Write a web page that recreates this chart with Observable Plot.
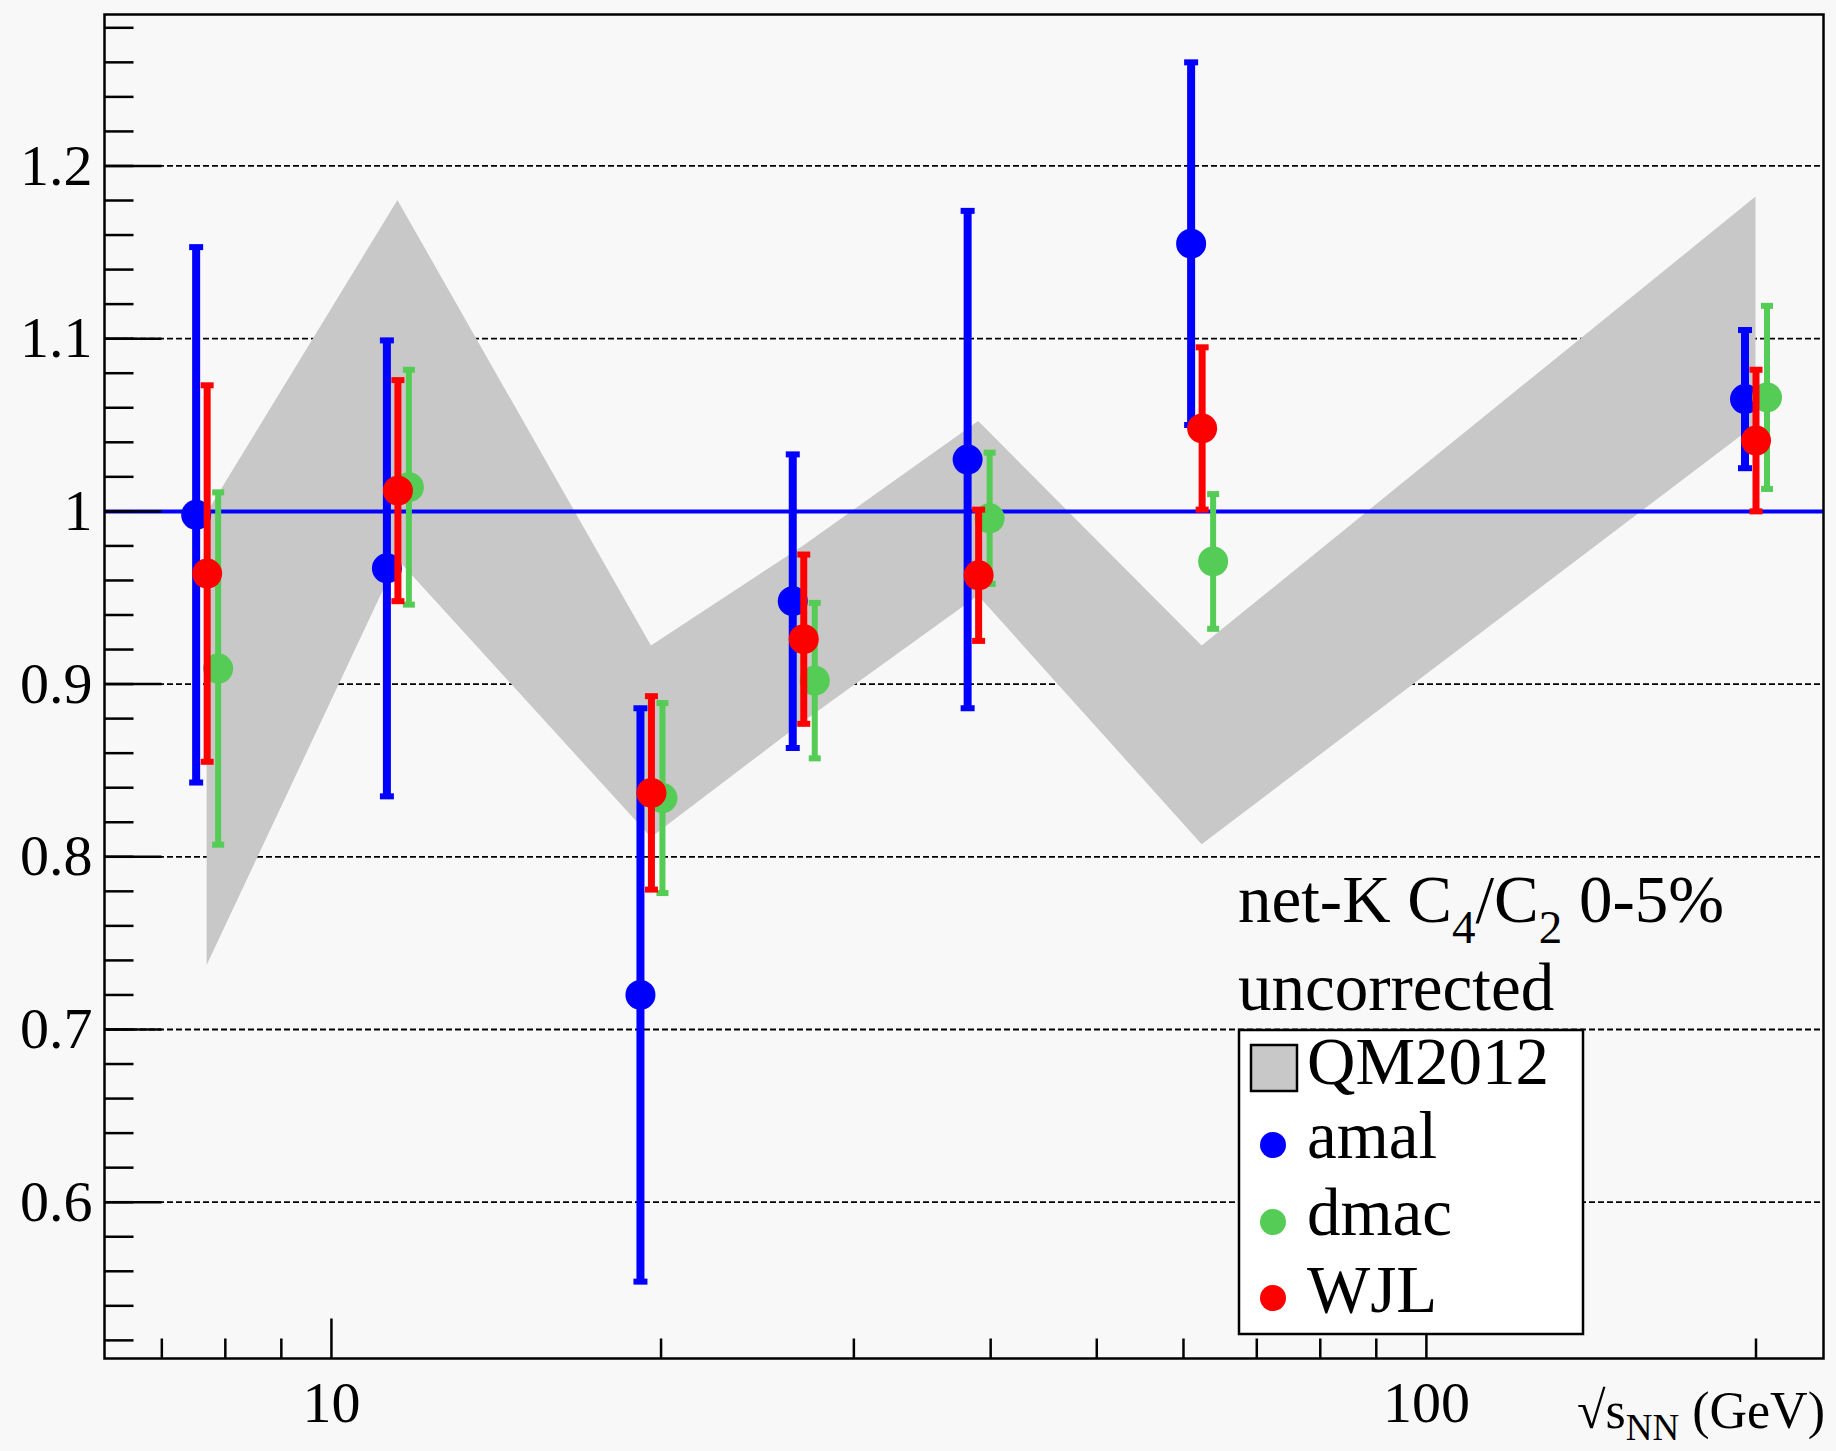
<!DOCTYPE html>
<html><head><meta charset="utf-8">
<script src="https://cdn.jsdelivr.net/npm/d3@7"></script>
<script src="https://cdn.jsdelivr.net/npm/@observablehq/plot@0.6"></script>
<style>
html,body{margin:0;padding:0;background:#f8f8f8;}
#chart{position:relative;width:1836px;height:1451px;}
text{white-space:pre;}
</style></head><body><div id="chart"></div>
<script>
// ---- data ----
const energies = [7.7, 11.5, 19.6, 27, 39, 62.4, 200];
const amalVal = [0.998, 0.967, 0.720, 0.948, 1.030, 1.155, 1.065];
const amalErr = [0.155, 0.132, 0.166, 0.085, 0.144, 0.105, 0.040];
const dmacVal = [0.909, 1.014, 0.834, 0.902, 0.996, 0.971, 1.066];
const dmacErr = [0.102, 0.068, 0.055, 0.045, 0.038, 0.039, 0.053];
const wjlVal  = [0.964, 1.012, 0.837, 0.926, 0.963, 1.048, 1.041];
const wjlErr  = [0.109, 0.064, 0.056, 0.049, 0.038, 0.047, 0.041];
const qmLow   = [0.737, 0.972, 0.811, 0.878, 0.951, 0.807, 1.050];
const qmHigh  = [0.999, 1.180, 0.922, 0.980, 1.052, 0.922, 1.182];
const yMajor = [0.6, 0.7, 0.8, 0.9, 1.0, 1.1, 1.2];
const yLabels = ["0.6", "0.7", "0.8", "0.9", "1", "1.1", "1.2"];
const yMinor = d3.range(26, 65).map(i => +(i * 0.02).toFixed(2));
const xMajor = [10, 100];
const xLabels = ["10", "100"];
const xMinor = [7, 8, 9, 20, 30, 40, 50, 60, 70, 80, 90, 200];
const seriesNames = ["amal", "dmac", "WJL"];
const seriesColors = ["#0000ff", "#55cc55", "#ff0000"];

// ---- tables ----
const band = energies.map((E, i) => ({E, lo: qmLow[i], hi: qmHigh[i]}));
const mk = (vals, errs) => energies.map((E, i) => ({E, v: vals[i], lo: vals[i] - errs[i], hi: vals[i] + errs[i]}));
const series = [
  {name: seriesNames[0], data: mk(amalVal, amalErr), color: seriesColors[0], dx: -11, sw: 8},
  {name: seriesNames[1], data: mk(dmacVal, dmacErr), color: seriesColors[1], dx: 11, sw: 6},
  {name: seriesNames[2], data: mk(wjlVal, wjlErr), color: seriesColors[2], dx: 0, sw: 7}
];

// ---- custom glyphs ----
const capSymbol = (w, h) => ({draw(ctx) { ctx.rect(-w / 2, -h / 2, w, h); }});
const tickRight = L => ({draw(ctx) { ctx.moveTo(0, 0); ctx.lineTo(L, 0); }});
const tickUp = L => ({draw(ctx) { ctx.moveTo(0, 0); ctx.lineTo(0, -L); }});

const seriesMarks = series.flatMap(s => [
  Plot.ruleX(s.data, {x: "E", y1: "lo", y2: "hi", stroke: s.color, strokeWidth: s.sw, dx: s.dx}),
  Plot.dot(s.data, {x: "E", y: "lo", symbol: capSymbol(s.sw + 6, 6), fill: s.color, stroke: "none", dx: s.dx}),
  Plot.dot(s.data, {x: "E", y: "hi", symbol: capSymbol(s.sw + 6, 6), fill: s.color, stroke: "none", dx: s.dx}),
  Plot.dot(s.data, {x: "E", y: "v", r: 15, fill: s.color, stroke: "none", dx: s.dx})
]);

const FONT = "Liberation Serif, Times New Roman, serif";

const chart = Plot.plot({
  width: 1836, height: 1451,
  marginLeft: 104, marginRight: 13, marginTop: 14, marginBottom: 93,
  style: {background: "#f8f8f8", fontFamily: FONT, color: "black"},
  x: {type: "log", domain: [6.205, 230.5]},
  y: {domain: [0.5095, 1.2877]},
  marks: [
    Plot.ruleY(yMajor, {stroke: "black", strokeWidth: 1.8, strokeDasharray: "6,3"}),
    Plot.areaY(band, {x: "E", y1: "lo", y2: "hi", fill: "#c8c8c8"}),
    Plot.ruleY([1], {stroke: "#0000ff", strokeWidth: 4}),
    ...seriesMarks,
    Plot.frame({stroke: "black", strokeWidth: 2.5}),
    Plot.dot(yMinor, {y: d => d, frameAnchor: "left", symbol: tickRight(29), stroke: "black", strokeWidth: 2.5, fill: "none"}),
    Plot.dot(yMajor, {y: d => d, frameAnchor: "left", symbol: tickRight(57), stroke: "black", strokeWidth: 2.5, fill: "none"}),
    Plot.dot(xMinor, {x: d => d, frameAnchor: "bottom", symbol: tickUp(20), stroke: "black", strokeWidth: 2.5, fill: "none"}),
    Plot.dot(xMajor, {x: d => d, frameAnchor: "bottom", symbol: tickUp(40), stroke: "black", strokeWidth: 2.5, fill: "none"}),
    Plot.axisY(yMajor, {tickSize: 0, tickPadding: 12, tickFormat: d => yLabels[yMajor.indexOf(d)], fontSize: 58, label: null, fill: "black"}),
    Plot.axisX(xMajor, {tickSize: 0, tickPadding: 22, tickFormat: d => xLabels[xMajor.indexOf(d)], fontSize: 58, label: null, fill: "black"})
  ]
});
document.getElementById("chart").appendChild(chart);

// ---- annotations & legend ----
const svg = d3.select(chart);
const txt = (x, y, size, anchor = "start") => svg.append("text").attr("x", x).attr("y", y)
  .attr("font-family", FONT).attr("font-size", size).attr("fill", "black").attr("text-anchor", anchor);

const t1 = txt(1238, 922, 67);
t1.append("tspan").text("net-K C");
t1.append("tspan").attr("font-size", 47).attr("dy", 21).text("4");
t1.append("tspan").attr("dy", -21).text("/C");
t1.append("tspan").attr("font-size", 47).attr("dy", 21).text("2");
t1.append("tspan").attr("dy", -21).text(" 0-5%");
txt(1238, 1010, 67).text("uncorrected");

svg.append("rect").attr("x", 1239).attr("y", 1030).attr("width", 344).attr("height", 304)
  .attr("fill", "white").attr("stroke", "black").attr("stroke-width", 2.5);
svg.append("rect").attr("x", 1251).attr("y", 1045).attr("width", 46).attr("height", 46)
  .attr("fill", "#c8c8c8").attr("stroke", "black").attr("stroke-width", 2.5);
txt(1307, 1084, 67).text("QM2012");
const legY = [1145, 1222, 1298];
const legBase = [1158, 1235, 1312];
seriesNames.forEach((n, i) => {
  svg.append("circle").attr("cx", 1273).attr("cy", legY[i]).attr("r", 13).attr("fill", seriesColors[i]);
  txt(1307, legBase[i], 67).text(n);
});

const xt = txt(1825, 1428, 52, "end");
xt.append("tspan").text("\u221As");
xt.append("tspan").attr("font-size", 37).attr("dy", 12).text("NN");
xt.append("tspan").attr("dy", -12).text(" (GeV)");
</script></body></html>
